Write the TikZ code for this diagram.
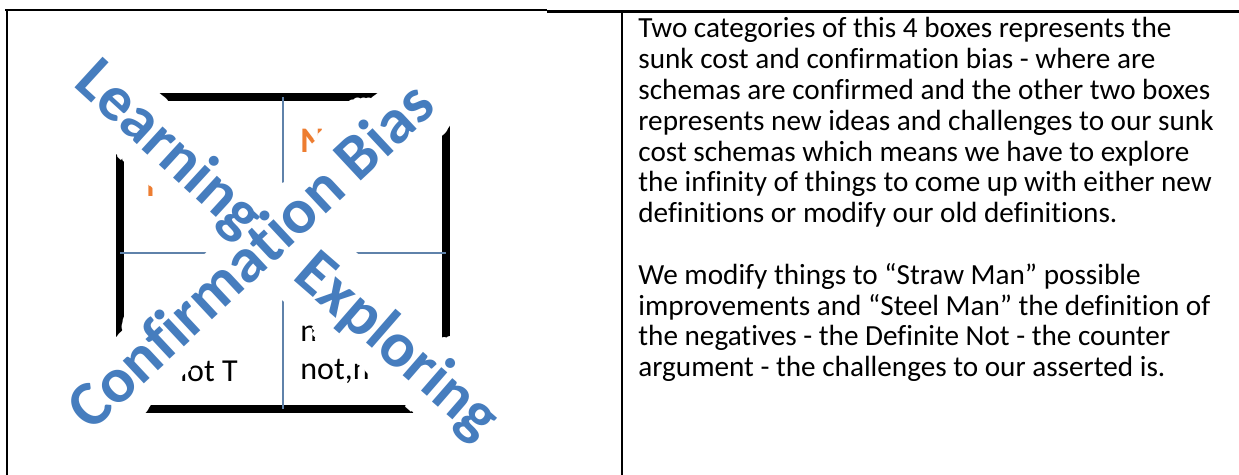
\documentclass[tikz,border=0pt]{standalone}
\usepackage{fontspec}
\setmainfont{Carlito}[Ligatures=NoCommon]
\usepackage{tikz}

\definecolor{wordblue}{RGB}{70,125,190}
\definecolor{labelorange}{RGB}{237,125,49}
\definecolor{crossblue}{RGB}{95,130,170}

\begin{document}
\begin{tikzpicture}[x=0.5pt,y=-0.5pt,
    rule/.style={line width=1pt},
    bar/.style={line width=4pt},
    cross/.style={crossblue, line width=0.7pt},
    body/.style={anchor=base west, inner sep=0pt, font=\fontsize{14.6pt}{15.4pt}\selectfont},
    quad/.style={anchor=base west, inner sep=0pt, font=\fontsize{16pt}{19pt}\selectfont},
    flag/.style={anchor=base west, inner sep=0pt, text=labelorange, font=\fontsize{18pt}{21pt}\selectfont\bfseries},
    glow/.style={anchor=base, inner sep=0pt, text=white, font=\fontsize{32pt}{38pt}\selectfont\bfseries},
    word/.style={anchor=base, inner sep=0pt, text=wordblue, font=\fontsize{32pt}{38pt}\selectfont\bfseries}]
      \useasboundingbox (0,0) rectangle (1239,475);
      \fill[white] (0,0) rectangle (1239,475);
      % table rules
      \draw[rule] (5,10.5) -- (547,10.5);
      \draw[rule, line width=1.25pt] (547,11.5) -- (1239,11.5);
      \draw[rule] (7,10) -- (7,475);
      \draw[rule] (622,11) -- (622,475);
      % the four boxes
      \draw[bar] (120,97) rectangle (446,409);
      \draw[cross] (283,97) -- (283,409);
      \draw[cross] (120,253) -- (446,253);
      \node[flag] (tl) at (146,197) {N};
      \node[flag] (tr) at (300,153) {N};
      \node[quad] (bl) at (170,382) {not T};
      \node[quad] (br1) at (300,342) {no};
      \node[quad] (br2) at (300,380) {not,n};
      % diagonal words
      \coordinate (le) at (157,163);
      \coordinate (ex) at (385,360);
      \coordinate (cb) at (265,271);
      \foreach \c/\ang/\txt in {le/-42.5/Learning, ex/-41/Exploring, cb/43/Confirmation Bias}
        \foreach \r in {6,12,18,22}
          \foreach \a in {0,15,...,345}
            \path (\c) ++(\a:\r) node[glow, rotate=\ang] (glow-\c-\r-\a) {\txt};
      \foreach \c/\ang/\txt in {le/-42.5/Learning, ex/-41/Exploring, cb/43/Confirmation Bias}
        \node[word, rotate=\ang] (w-\c) at (\c) {\txt};
      % right cell
      \foreach \txt [count=\i from 0] in {Two categories of this 4 boxes represents the,
          sunk cost and confirmation bias - where are,
          schemas are confirmed and the other two boxes,
          represents new ideas and challenges to our sunk,
          cost schemas which means we have to explore,
          the infinity of things to come up with either new,
          definitions or modify our old definitions.}
        \node[body] (para1-\i) at (638,{38+30.8*\i}) {\txt};
      \foreach \txt [count=\i from 0] in {We modify things to “Straw Man” possible,
          improvements and “Steel Man” the definition of,
          the negatives - the Definite Not - the counter,
          argument - the challenges to our asserted is.}
        \node[body] (para2-\i) at (638,{284.4+30.8*\i}) {\txt};
    \end{tikzpicture}
\end{document}
